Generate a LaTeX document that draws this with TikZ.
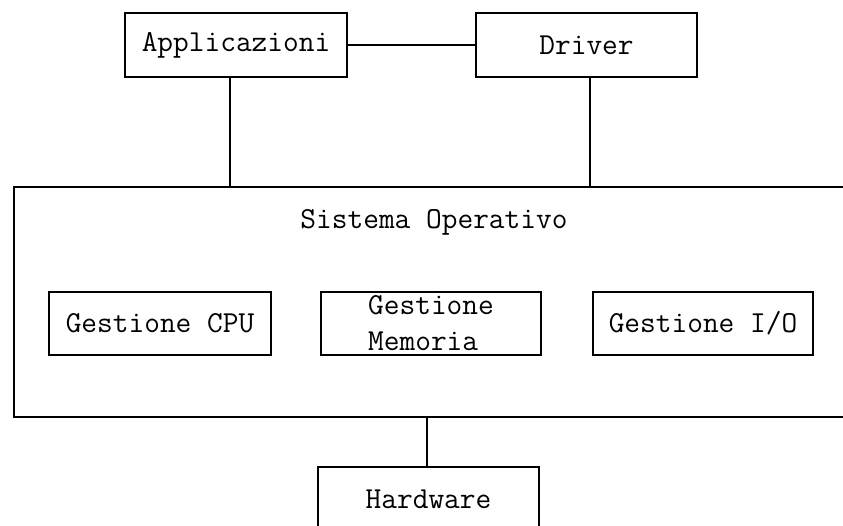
\documentclass[tikz,border=0pt]{standalone}
\usepackage{tikz}
\usetikzlibrary{positioning}
\tikzset{box/.style = {draw, line width=1.6pt, inner sep=0pt,
                       minimum width=222pt, minimum height=64pt,
                       font=\ttfamily\fontsize{30.5}{36}\selectfont},
         link/.style = {line width=1.6pt}}

\begin{document}
\begin{tikzpicture}[x=1pt, y=1pt]
    \useasboundingbox (0, 0) rectangle (843, 526);
    \node [box] (appl) at (236, 481) {Applicazioni};
    \node [box, minimum width=221pt] (driver) at (586.5, 481) {Driver};
    \node [box, minimum width=846pt, minimum height=230pt] (os) at (437, 224) {};
    \node [font=\ttfamily\fontsize{30.5}{36}\selectfont] (title) at (434, 304) {Sistema Operativo};
    \node [box, minimum height=63pt] (cpu) at (160, 202.5) {Gestione CPU};
    \node [box, minimum width=220pt, minimum height=63pt, align=left] (mem) at (431, 202.5)
      {Gestione\\Memoria};
    \node [box, minimum width=220pt, minimum height=63pt] (io) at (703, 202.5) {Gestione I/O};
    \node [box, minimum width=221pt] (hw) at (428.5, 27) {Hardware};
    \draw [link] (appl) -- (driver);
    \draw [link] ([xshift=-6pt]appl.south) -- ([xshift=-6pt]appl.south |- os.north);
    \draw [link] ([xshift=3.5pt]driver.south) -- ([xshift=3.5pt]driver.south |- os.north);
    \draw [link] ([xshift=-1.5pt]os.south -| hw.north) -- ([xshift=-1.5pt]hw.north);
  \end{tikzpicture}
\end{document}
